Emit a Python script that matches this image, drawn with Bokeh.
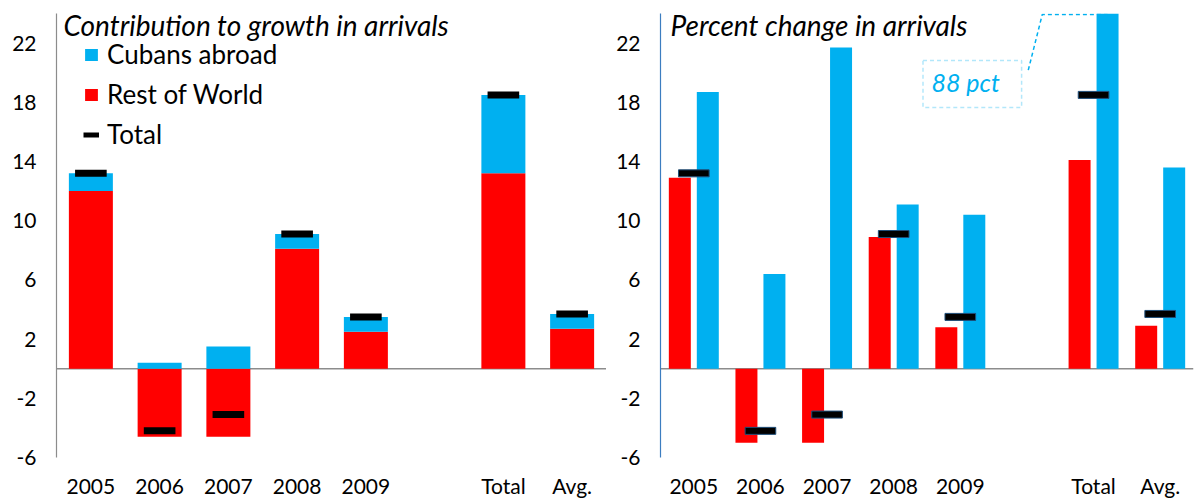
from bokeh.plotting import figure
from bokeh.layouts import row
from bokeh.models import (FactorRange, Range1d, FixedTicker, Span, Legend, LegendItem,
                          Label, BoxAnnotation, ColumnDataSource)
from bokeh.transform import dodge
from bokeh.embed import file_html
from bokeh.resources import INLINE

# ---- data -------------------------------------------------------------
categories = ["2005", "2006", "2007", "2008", "2009", "Total", "Avg."]

# contribution to growth in arrivals (percentage points)
contrib_rest = [12.0, -4.6, -4.6, 8.1, 2.5, 13.2, 2.7]
contrib_cubans = [1.2, 0.4, 1.5, 1.0, 1.0, 5.3, 1.0]
total_growth = [13.2, -4.2, -3.1, 9.1, 3.5, 18.5, 3.7]

# percent change in arrivals
pct_rest = [12.9, -5.0, -5.0, 8.9, 2.8, 14.1, 2.9]
pct_cubans = [18.7, 6.4, 21.7, 11.1, 10.4, 88.0, 13.6]

y_ticks = [-6, -2, 2, 6, 10, 14, 18, 22]

# ---- styling ----------------------------------------------------------
RED = "#FF0000"
CYAN = "#00B0F0"
FONT = "Lato"
Y_MIN, Y_MAX = -6, 24

# empty slot between the yearly bars and the summary bars
factors = categories[:5] + [" "] + categories[5:]

cyan_bottom = [max(r, 0) for r in contrib_rest]
cyan_top = [b + c for b, c in zip(cyan_bottom, contrib_cubans)]

src = ColumnDataSource(dict(
    cat=categories,
    rest=contrib_rest,
    cyan_bottom=cyan_bottom,
    cyan_top=cyan_top,
    total=total_growth,
    pct_rest=pct_rest,
    pct_cubans=pct_cubans,
))


def make_panel(border_left, frame_w, border_right, axis_color, title, title_dx):
    p = figure(
        x_range=FactorRange(factors=factors, range_padding=0, factor_padding=0),
        y_range=Range1d(Y_MIN, Y_MAX),
        frame_width=frame_w, frame_height=444,
        min_border_left=border_left, min_border_right=border_right,
        min_border_top=13, min_border_bottom=42,
        toolbar_location=None, output_backend="svg",
    )
    p.outline_line_color = None
    p.grid.visible = False

    p.yaxis.ticker = FixedTicker(ticks=y_ticks)
    p.yaxis.major_label_overrides = {t: str(t) for t in y_ticks}
    p.yaxis.axis_line_color = axis_color
    p.yaxis.axis_line_width = 1.2
    p.yaxis.major_tick_line_color = None
    p.yaxis.minor_tick_line_color = None
    p.yaxis.major_tick_out = 0
    p.yaxis.minor_tick_out = 0
    p.yaxis.major_label_standoff = 20
    p.yaxis.major_label_text_font = FONT
    p.yaxis.major_label_text_font_size = "21px"
    p.yaxis.major_label_text_color = "black"

    p.xaxis.axis_line_color = None
    p.xaxis.major_tick_line_color = None
    p.xaxis.minor_tick_line_color = None
    p.xaxis.major_tick_out = 0
    p.xaxis.minor_tick_out = 0
    p.xaxis.major_label_standoff = 15
    p.xaxis.major_label_text_font = FONT
    p.xaxis.major_label_text_font_size = "21px"
    p.xaxis.major_label_text_color = "black"

    p.add_layout(Span(location=0, dimension="width", line_color="#8c8c8c",
                      line_width=1.5, level="underlay"))

    p.add_layout(Label(x=title_dx, y=433, x_units="screen", y_units="screen",
                       text=title, text_font=FONT, text_font_style="italic",
                       text_font_size="28px", text_color="black",
                       text_baseline="alphabetic"))
    return p


# ---- left: contribution to growth (stacked) ---------------------------
left = make_panel(56, 550, 0, "#8c8c8c", "Contribution to growth in arrivals", 7)

red_bars = left.vbar(x="cat", bottom=0, top="rest", width=0.64, source=src,
                     fill_color=RED, line_color=None)
cyan_bars = left.vbar(x="cat", bottom="cyan_bottom", top="cyan_top", width=0.64,
                      source=src, fill_color=CYAN, line_color=None)
left.rect(x="cat", y="total", width=0.46, height=7, height_units="screen",
          source=src, fill_color="black", line_color=None)

# swatch used only for the "Total" legend entry (nothing is drawn in the frame)
total_key = left.line(x=categories[:2], y=[float("nan")] * 2,
                      line_color="black", line_width=5)

legend = Legend(
    items=[LegendItem(label="Cubans abroad", renderers=[cyan_bars]),
           LegendItem(label="Rest of World", renderers=[red_bars]),
           LegendItem(label="Total", renderers=[total_key])],
    location=(27, 307), orientation="vertical",
    glyph_width=16, glyph_height=15, label_standoff=8, spacing=8,
    padding=0, margin=0, background_fill_alpha=0, border_line_color=None,
    label_text_font=FONT, label_text_font_size="26px", label_text_color="black",
)
left.add_layout(legend)

# ---- right: percent change (side by side) -----------------------------
right = make_panel(54, 533, 2, "#3c7dc0", "Percent change in arrivals", 10)

right.vbar(x=dodge("cat", -0.21, range=right.x_range), top="pct_rest", width=0.33,
           source=src, fill_color=RED, line_color=None)
right.vbar(x=dodge("cat", 0.21, range=right.x_range), top="pct_cubans", width=0.33,
           source=src, fill_color=CYAN, line_color=None)
right.rect(x="cat", y="total", width=0.46, height=7, height_units="screen",
           source=src, fill_color="black", line_color="#1f4e79", line_width=1)

# callout for the Cubans-abroad total bar, which runs off the top of the axis
total_idx = factors.index("Total")
bar_x = total_idx + 0.5 + 0.21
right.add_layout(BoxAnnotation(left=3.94, right=5.42, bottom=17.65, top=20.83,
                               fill_alpha=0, line_color=CYAN, line_width=1.5,
                               line_dash="4 3", level="overlay"))
right.line(x=[5.52, 5.73, bar_x], y=[20.17, Y_MAX - 0.07, Y_MAX - 0.07],
           line_color=CYAN, line_width=1.5, line_dash="4 3")
right.add_layout(Label(x=4.58, y=19.39, text=f"{pct_cubans[5]:.0f} pct",
                       text_font=FONT, text_font_style="italic", text_font_size="25px",
                       text_color=CYAN, text_align="center", text_baseline="middle"))

layout = row(left, right, spacing=0)
open("out.html", "w").write(file_html(layout, INLINE))
